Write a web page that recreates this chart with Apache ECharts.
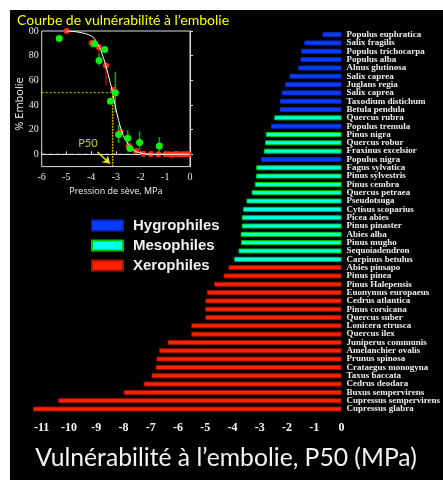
<!DOCTYPE html>
<html><head><meta charset="utf-8">
<script src="https://cdn.jsdelivr.net/npm/echarts@6/dist/echarts.min.js"></script>
<style>html,body{margin:0;padding:0;background:#fff}#c{width:443px;height:480px}</style>
</head><body><div id="c"></div>
<script>
// ---- main bar chart data ----
const species = ['Populus euphratica','Salix fragilis','Populus trichocarpa','Populus alba','Alnus glutinosa','Salix caprea','Juglans regia','Salix caprea','Taxodium distichum','Betula pendula','Quercus rubra','Populus tremula','Pinus nigra','Quercus robur','Fraxinus excelsior','Populus nigra','Fagus sylvatica','Pinus sylvestris','Pinus cembra','Quercus petraea','Pseudotsuga','Cytisus scoparius','Picea abies','Pinus pinaster','Abies alba','Pinus mugho','Sequoiadendron','Carpinus betulus','Abies pinsapo','Pinus pinea','Pinus Halepensis','Euonymus europaeus','Cedrus atlantica','Pinus corsicana','Quercus suber','Lonicera etrusca','Quercus ilex','Juniperus communis','Amelanchier ovalis','Prunus spinosa','Crataegus monogyna','Taxus baccata','Cedrus deodara','Buxus sempervirens','Cupressus sempervirens','Cupressus glabra'];
const p50 = [-0.7,-1.37,-1.48,-1.51,-1.59,-1.91,-2.08,-2.2,-2.26,-2.27,-2.47,-2.59,-2.78,-2.81,-2.85,-2.95,-3.13,-3.14,-3.18,-3.3,-3.49,-3.61,-3.66,-3.66,-3.7,-3.69,-3.78,-3.94,-4.15,-4.33,-4.67,-4.94,-5.0,-5.0,-5.0,-5.51,-5.51,-6.38,-6.69,-6.79,-6.82,-6.97,-7.26,-7.99,-10.39,-11.32];
const groups = ['H','H','H','H','H','H','H','H','H','H','M','H','M','M','M','H','M','M','M','M','M','M','M','M','M','M','M','M','X','X','X','X','X','X','X','X','X','X','X','X','X','X','X','X','X','X'];
const groupKeys = ['H','M','X'];
const groupNames = ['Hygrophiles','Mesophiles','Xerophiles'];
const xTickLabels = ['-11','-10','-9','-8','-7','-6','-5','-4','-3','-2','-1','0'];

// ---- inset vulnerability curve data ----
const curveX = [-5.0,-4.5,-4.0,-3.75,-3.5,-3.25,-3.13,-3.0,-2.75,-2.5,-2.25,-2.0,-1.5,-1.0,0];
const curveY = [100,99,96,90,78,60,50,37,18,8,3,1,0,0,0];
const redX = [-4.99,-3.98,-3.69,-3.40,-3.10,-2.81,-2.48,-2.18,-1.89,-1.58,-1.28,-0.98,-0.85,-0.75,-0.65,-0.55,-0.45,-0.35,-0.25,-0.15,-0.05];
const redY = [100,90.3,87,72,52.4,18,7,2.7,0.5,0.3,0,0,0,-0.3,0,0.2,0,-0.2,0,0.1,0];
const redErrX = [-3.98,-3.69,-3.40,-2.81];
const redErrLo = [86,83,56,14];
const redErrHi = [92,89,74,20];
const greenX = [-5.29,-3.87,-3.68,-3.45,-3.22,-3.02,-2.89,-2.52,-2.43,-2.04,-1.24];
const greenY = [94,89.7,76,85,43,50,16,13,4.6,9.5,6.8];
const greenErrX = [-3.68,-3.02,-2.89,-2.52,-2.04,-1.24];
const greenErrLo = [72,34,9,6,3,1];
const greenErrHi = [82,67,24,19.5,18.6,14];
const insetYTicks = [0,20,40,60,80,100];
const p50Value = -3.13;
const p50Arrow = [[-3.75,1.9],[-3.24,-7.5]];
const p50LabelPos = [-4.13,8.5];

const colors = {
  H: {fill:'#0a3cff', border:'#0628c8'},
  M: {fill:'#00ffe6', border:'#00c800'},
  X: {fill:'#ff2200', border:'#a81200'}
};

const barSeries = groupKeys.map((g, gi) => ({
  type:'bar', name: groupNames[gi], xAxisIndex:0, yAxisIndex:0,
  barWidth:5, barGap:'-100%',
  itemStyle:{color:colors[g].fill, borderColor:colors[g].border, borderWidth:1},
  data: p50.map((v,i) => groups[i] === g ? v : '-'),
  silent:true, animation:false
}));

const errRender = (color) => (params, api) => {
  const a = api.coord([api.value(0), api.value(1)]);
  const b = api.coord([api.value(0), api.value(2)]);
  return {type:'line', shape:{x1:a[0],y1:a[1],x2:b[0],y2:b[1]}, style:{stroke:color, lineWidth:1.5}};
};

const chart = echarts.init(document.getElementById('c'), null, {renderer:'canvas'});
chart.setOption({
  animation:false,
  backgroundColor:'#ffffff',
  graphic:[
    {type:'rect', shape:{x:10,y:10,width:433,height:470}, style:{fill:'#000'}, z:-100, silent:true},
    {type:'text', x:226, y:458, style:{text:'Vulnérabilité à l\u2019embolie, P50 (MPa)', fill:'#f4f4f4', font:'24.7px Lato', textAlign:'center', textVerticalAlign:'middle'}},
    {type:'text', x:17, y:20, style:{text:'Courbe de vulnérabilité à l\u2019embolie', fill:'#ffff00', font:'14px Lato', textAlign:'left', textVerticalAlign:'middle'}, z:10},
    {type:'text', x:20, y:104, rotation:Math.PI/2, style:{text:'% Embolie', fill:'#f0f0f0', font:'11px "Open Sans"', textAlign:'center', textVerticalAlign:'middle'}}
  ],
  legend:{
    data:groupNames, orient:'vertical', left:86, top:213, itemWidth:31, itemHeight:10, itemGap:5,
    icon:'rect', selectedMode:false,
    textStyle:{color:'#f0f0f0', fontSize:15, fontWeight:'bold', fontFamily:'Liberation Sans', padding:[0,0,0,5]}
  },
  grid:[
    {left:14.4, width:328.3, top:30.5, height:382.7},
    {left:41.7, width:148.3, top:31, height:135.6, show:true, borderColor:'#dddddd', borderWidth:1, z:5}
  ],
  xAxis:[
    {type:'value', gridIndex:0, min:-12, max:0, interval:1,
     axisLine:{show:false}, axisTick:{show:false}, splitLine:{show:false},
     axisLabel:{color:'#f4f4f4', fontFamily:'Liberation Serif', fontWeight:'bold', fontSize:12, margin:9,
       formatter:(v)=>{const i = v + 11; return (i>=0 && i<xTickLabels.length) ? xTickLabels[i] : '';}}},
    {type:'value', gridIndex:1, min:-6, max:0, interval:1,
     axisLine:{show:true, lineStyle:{color:'#dddddd'}}, axisTick:{show:true, inside:true, length:3, lineStyle:{color:'#dddddd'}},
     splitLine:{show:false},
     axisLabel:{color:'#e8e8e8', fontFamily:'Liberation Serif', fontSize:10, margin:6},
     name:'Pression de sève, MPa', nameLocation:'middle', nameGap:20,
     nameTextStyle:{color:'#f0f0f0', fontFamily:'Open Sans', fontSize:9}}
  ],
  yAxis:[
    {type:'category', gridIndex:0, data:species, inverse:true, position:'right',
     axisLine:{show:false}, axisTick:{show:false}, splitLine:{show:false},
     axisLabel:{interval:0, color:'#ececec', fontFamily:'Liberation Serif', fontWeight:'bold', fontSize:9, margin:5}},
    {type:'value', gridIndex:1, min:-10, max:100,
     axisLine:{show:true, lineStyle:{color:'#dddddd'}}, splitLine:{show:false},
     axisTick:{show:true, inside:true, length:3, customValues:insetYTicks, lineStyle:{color:'#dddddd'}},
     axisLabel:{customValues:insetYTicks, color:'#e8e8e8', fontFamily:'Liberation Serif', fontSize:10, margin:3,
       formatter:(v)=> v===100 ? '00' : String(v)}}
  ],
  series:[
    ...barSeries,
    {type:'line', xAxisIndex:1, yAxisIndex:1, data:[[-6,0],[0,0]], symbol:'none', silent:true,
     lineStyle:{color:'#e0e0e0', width:1.2, type:[4,3]}, z:3},
    {type:'line', xAxisIndex:1, yAxisIndex:1, data:[[-6,50],[p50Value,50]], symbol:'none', silent:true,
     lineStyle:{color:'#c8c400', width:1, type:[2,2]}, z:3},
    {type:'line', xAxisIndex:1, yAxisIndex:1, data:[[p50Value,50],[p50Value,-10]], symbol:'none', silent:true,
     lineStyle:{color:'#c8b400', width:1.5, type:[2,1]}, z:3},
    {type:'custom', xAxisIndex:1, yAxisIndex:1, renderItem:errRender('#c00000'),
     data:redErrX.map((x,i)=>[x,redErrLo[i],redErrHi[i]]), z:4, silent:true},
    {type:'custom', xAxisIndex:1, yAxisIndex:1, renderItem:errRender('#00b000'),
     data:greenErrX.map((x,i)=>[x,greenErrLo[i],greenErrHi[i]]), z:4, silent:true},
    {type:'scatter', xAxisIndex:1, yAxisIndex:1, symbolSize:6, data:redX.map((x,i)=>[x,redY[i]]),
     itemStyle:{color:'#ff2a1a', opacity:1}, z:5, silent:true},
    {type:'line', xAxisIndex:1, yAxisIndex:1, data:curveX.map((x,i)=>[x,curveY[i]]), smooth:0.4, symbol:'none',
     lineStyle:{color:'#ffffff', width:1}, z:6, silent:true},
    {type:'scatter', xAxisIndex:1, yAxisIndex:1, symbolSize:7, data:greenX.map((x,i)=>[x,greenY[i]]),
     itemStyle:{color:'#11ee11', opacity:1}, z:7, silent:true,
     markLine:{silent:true, symbol:['none','arrow'], symbolSize:7, label:{show:false},
       lineStyle:{color:'#e6e600', width:1.5, type:'solid'},
       data:[[{coord:p50Arrow[0]},{coord:p50Arrow[1]}]]}},
    {type:'scatter', xAxisIndex:1, yAxisIndex:1, data:[p50LabelPos], symbolSize:0, silent:true, z:8,
     label:{show:true, formatter:'P50', color:'#ffff00', fontFamily:'Lato', fontSize:11, position:'inside'}}
  ]
});
</script></body></html>
